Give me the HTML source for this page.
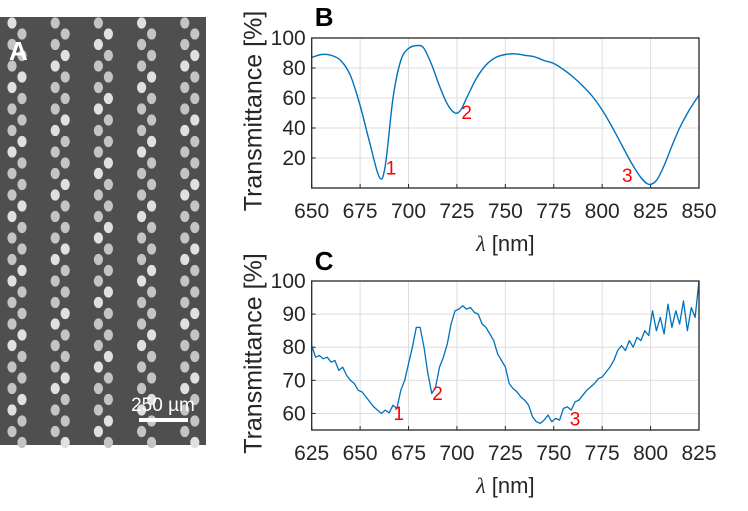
<!DOCTYPE html>
<html><head><meta charset="utf-8"><style>
html,body{margin:0;padding:0;background:#fff;}
svg{display:block;font-family:"Liberation Sans",sans-serif;}
</style></head><body>
<svg id="fig" width="748" height="511" viewBox="0 0 748 511">
  <g id="sem">
    <rect x="0" y="17" width="206" height="428" fill="#4f4f4f"/>
    <g id="dots"></g>
    <text x="9" y="60" font-size="26" font-weight="bold" fill="#fff">A</text>
    <text x="163" y="411" font-size="19" fill="#fff" text-anchor="middle">250 µm</text>
    <rect x="139" y="418" width="49" height="4" fill="#fff"/>
  </g>
  <g id="plotB"></g>
  <g id="plotC"></g>
</svg>
<script>
// Chart B data
const bWave = [650,655,660,665,670,675,680,685,688,692,696,700,705,708,712,716,720,724,727,730,735,740,745,750,755,760,765,770,775,780,785,790,795,800,805,810,815,820,824,828,832,836,840,845,850];
const bTrans = [87,89,88.5,85,75,55,30,7,15,60,85,93,95,93,82,68,56,50,52,60,73,82,87,89,89.5,88.5,87.5,85,83,79,74,68,61,52,41,29,17,7,2.5,5,15,28,40,52,62];
const bXTicks = [650,675,700,725,750,775,800,825,850];
const bYTicks = [20,40,60,80,100];
const bMarkers = [{t:"1",x:691,y:9},{t:"2",x:730,y:46},{t:"3",x:813,y:4}];
// Chart C data
const cWave = [625,627,629,631,633,635,637,639,641,643,645,647,649,651,653,655,657,659,661,663,665,667,669,671,673,675,677,679,681,683,685,687,689,691,693,695,697,699,701,703,705,707,709,711,713,715,717,719,721,723,725,727,729,731,733,735,737,739,741,743,745,747,749,751,753,755,757,759,761,763,765,767,769,771,773,775,777,779,781,783,785,787,789,791,793,795,797,799,801,803,805,807,809,811,813,815,817,819,821,823,825];
const cTrans = [80.5,77,77.5,76.5,77,75.5,76,73,74,71.5,70,69,67,66.5,65,63.5,62,61,60,61,60.2,62.5,61.5,67,70,75,80,86,86,80,72,66,68,74,77,81,87,91,91.5,92.5,91.5,92,90.5,90,87,86,84,82,78,76,74,69,67.5,66.5,65,64,62.5,59,57.5,57,58,59.5,57.5,58.5,58,61.5,62,61,63.5,64,65.5,67,68,69,70.5,71,72.5,74,76,79,80.5,79,82,80,83,82,85,83.5,91,85,89,84,93,86,91,87,94,85,92,89,100];
const cXTicks = [625,650,675,700,725,750,775,800,825];
const cYTicks = [60,70,80,90,100];
const cMarkers = [{t:"1",x:670,y:58},{t:"2",x:690,y:64},{t:"3",x:761,y:56.3}];

const NS="http://www.w3.org/2000/svg";
function mk(tag,attrs,parent){const e=document.createElementNS(NS,tag);for(const k in attrs)e.setAttribute(k,attrs[k]);parent.appendChild(e);return e;}

// SEM dots
const dg=document.getElementById('dots');
for(let c=0;c<5;c++){
  for(let r=0;r<20;r++){
    const bx=12+c*43.2, by=23+r*21.5;
    [[bx,by],[bx+10,by+11]].forEach(([x,y],k)=>{
      if(y>443)return;
      const d=mk('ellipse',{cx:x,cy:y,rx:4.6,ry:5.6,fill:((r+k+c)%3==0)?'#e0e0e0':'#c4c4c4'},dg);
      
      
    });
  }
}

function smoothPath(P){
  let d='M'+P[0][0].toFixed(1)+','+P[0][1].toFixed(1);
  for(let i=0;i<P.length-1;i++){
    const p0=P[Math.max(0,i-1)],p1=P[i],p2=P[i+1],p3=P[Math.min(P.length-1,i+2)];
    const c1=[p1[0]+(p2[0]-p0[0])/6,p1[1]+(p2[1]-p0[1])/6];
    const c2=[p2[0]-(p3[0]-p1[0])/6,p2[1]-(p3[1]-p1[1])/6];
    d+=` C${c1[0].toFixed(1)},${c1[1].toFixed(1)} ${c2[0].toFixed(1)},${c2[1].toFixed(1)} ${p2[0].toFixed(1)},${p2[1].toFixed(1)}`;
  }
  return d;
}

function drawChart(g,opt){
  const {L,R,T,B,xmin,xmax,ymin,ymax,xs,ys,xt,yt,marks,letter,ly,smooth}=opt;
  const X=v=>L+(v-xmin)/(xmax-xmin)*(R-L);
  const Y=v=>B-(v-ymin)/(ymax-ymin)*(B-T);
  xt.forEach(v=>{
    const l=mk('line',{x1:X(v),x2:X(v),y1:T,y2:B,stroke:'#dedede','stroke-width':1},g);
    
    
    const tk=mk('line',{x1:X(v),x2:X(v),y1:B,y2:B-4,stroke:'#262626'},g);
    
    
    const t=mk('text',{x:X(v),y:B+30,'font-size':21,fill:'#262626','text-anchor':'middle'},g);
    t.textContent=v;
    
    
  });
  yt.forEach(v=>{
    const l=mk('line',{x1:L,x2:R,y1:Y(v),y2:Y(v),stroke:'#dedede','stroke-width':1},g);
    
    
    const tk=mk('line',{x1:L,x2:L+4,y1:Y(v),y2:Y(v),stroke:'#262626'},g);
    
    
    const t=mk('text',{x:L-6,y:Y(v)+7,'font-size':21,fill:'#262626','text-anchor':'end'},g);
    t.textContent=v;
    
    
  });
  const P=xs.map((x,i)=>[X(x),Y(ys[i])]);
  let pl;
  if(smooth){
    pl=mk('path',{d:smoothPath(P),fill:'none',stroke:'#0072bd','stroke-width':1.4},g);
  } else {
    pl=mk('polyline',{points:P.map(p=>p[0].toFixed(1)+','+p[1].toFixed(1)).join(' '),fill:'none',stroke:'#0072bd','stroke-width':1.3,'stroke-linejoin':'round'},g);
  }
  
  
  const box=mk('rect',{x:L,y:T,width:R-L,height:B-T,fill:'none',stroke:'#262626','stroke-width':1.3},g);
  
  
  marks.forEach(m=>{
    const t=mk('text',{x:X(m.x),y:Y(m.y),'font-size':19,fill:'#ff0000','text-anchor':'middle'},g);
    t.textContent=m.t;
    
    
  });
  const yl=mk('text',{x:0,y:0,'font-size':25,fill:'#262626','text-anchor':'middle',transform:`translate(${L-50},${(T+B)/2-2}) rotate(-90)`},g);
  yl.textContent='Transmittance [%]';
  
  
  const xl=mk('text',{x:(L+R)/2,y:B+63,'font-size':22,fill:'#262626','text-anchor':'middle'},g);
  xl.innerHTML='<tspan font-style="italic" font-family="Liberation Serif, serif">λ</tspan> [nm]';
  
  
  const pl2=mk('text',{x:L+3,y:ly,'font-size':26,'font-weight':'bold',fill:'#000'},g);
  pl2.textContent=letter;
  
  
}
drawChart(document.getElementById('plotB'),{L:311.7,R:699,T:38,B:188,xmin:650,xmax:850,ymin:0,ymax:100,xs:bWave,ys:bTrans,xt:bXTicks,yt:bYTicks,marks:bMarkers,letter:'B',ly:26,smooth:true});
drawChart(document.getElementById('plotC'),{L:311.7,R:699,T:281,B:430,xmin:625,xmax:825,ymin:55,ymax:100,xs:cWave,ys:cTrans,xt:cXTicks,yt:cYTicks,marks:cMarkers,letter:'C',ly:270,smooth:false});
</script>
</body></html>
